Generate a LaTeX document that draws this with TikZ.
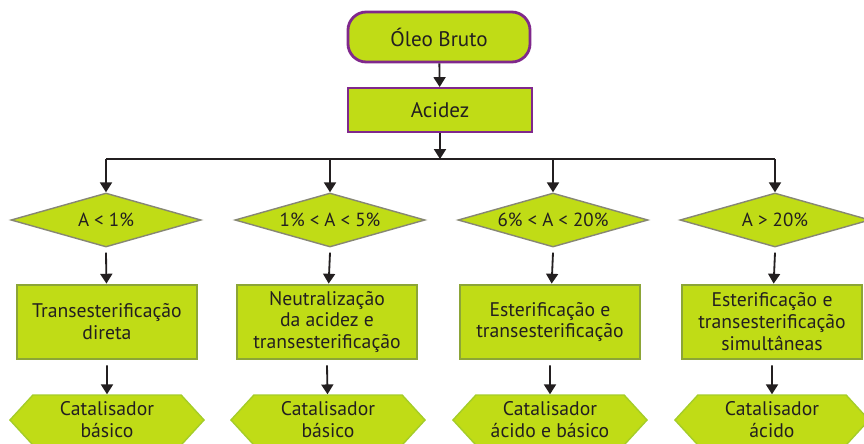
\documentclass[tikz,border=0pt]{standalone}
\usepackage{fontspec}
\setmainfont{PT Sans}
\usetikzlibrary{shapes.geometric,shapes.symbols,arrows.meta}
\definecolor{lima}{RGB}{192,220,22}
\definecolor{roxo}{RGB}{128,40,140}
\definecolor{verde}{RGB}{140,165,55}
\definecolor{verdeclaro}{RGB}{165,205,40}
\definecolor{cinza}{RGB}{135,135,115}
\definecolor{texto}{RGB}{35,31,32}
\tikzset{
	inicio/.style={draw=roxo,line width=2pt,fill=lima,rounded corners=13pt,minimum width=4.55cm,minimum height=1.25cm,font=\fontsize{15}{17}\selectfont,text=texto},
	acidez/.style={draw=roxo,line width=1.4pt,fill=lima,minimum width=4.62cm,minimum height=1.1cm,font=\fontsize{15}{17}\selectfont,text=texto},
	teste/.style={diamond,draw=cinza,line width=1pt,fill=lima,inner sep=0pt,aspect=3.5,minimum width=4.75cm,minimum height=1.35cm,font=\fontsize{13.5}{15}\selectfont,text=texto},
	processo/.style={draw=verde,line width=1.4pt,fill=lima,minimum width=4.5cm,minimum height=1.87cm,inner sep=1pt,align=center,font=\fontsize{14}{15.6}\selectfont,text=texto},
	catalisador/.style={signal,signal to=west and east,signal pointer angle=95,draw=verdeclaro,line width=1pt,fill=lima,minimum width=4.85cm,minimum height=1.25cm,inner sep=0pt,align=center,font=\fontsize{14}{15.6}\selectfont,text=texto},
	seta/.style={-{Triangle[length=7pt,width=8.5pt]},line width=1.3pt,draw=texto}
}
\begin{document}
\begin{tikzpicture}[x=0.025cm,y=-0.025cm]
	\useasboundingbox[fill=white] (0,0) rectangle (864,443);

	\node [inicio] (oleo) at (439,37) {Óleo Bruto};
	\node [acidez] (acid) at (440,110) {Acidez};
	\draw [seta] (oleo) -- (acid);

	\coordinate (ramo) at (440,159);
	\coordinate (r1) at (106,159);
	\coordinate (r4) at (775,159);
	\draw [seta] (acid.south) -- (ramo);
	\draw [line width=1.3pt,draw=texto] (r1) -- (r4);

	\node [teste] (a1) at (106,220) {A < 1\%};
	\node [teste] (a2) at (330,220) {1\% < A < 5\%};
	\node [teste] (a3) at (553,220) {6\% < A < 20\%};
	\node [teste] (a4) at (775,220) {A > 20\%};

	\draw [seta] (r1) -- (a1);
	\draw [seta] (a2 |- ramo) -- (a2);
	\draw [seta] (a3 |- ramo) -- (a3);
	\draw [seta] (r4) -- (a4);

	\node [processo] (p1) at (107,322) {Transesterificação\\direta};
	\node [processo] (p2) at (327,322) {Neutralização\\da acidez e\\transesterificação};
	\node [processo] (p3) at (550,322) {Esterificação e\\transesterificação};
	\node [processo] (p4) at (772,322) {Esterificação e\\transesterificação\\simultâneas};

	\draw [seta] (a1.south) ++(0,5) -- (p1);
	\draw [seta] (a2.south) ++(0,5) -- (p2);
	\draw [seta] (a3.south) ++(0,5) -- (p3);
	\draw [seta] (a4.south) ++(0,5) -- (p4);

	\node [catalisador] (c1) at (107,420) {Catalisador\\básico};
	\node [catalisador] (c2) at (328,420) {Catalisador\\básico};
	\node [catalisador] (c3) at (550,420) {Catalisador\\ácido e básico};
	\node [catalisador] (c4) at (772,420) {Catalisador\\ácido};

	\draw [seta] (p1.south) ++(0,5) -- (c1);
	\draw [seta] (p2.south) ++(0,5) -- (c2);
	\draw [seta] (p3.south) ++(0,5) -- (c3);
	\draw [seta] (p4.south) ++(0,5) -- (c4);
\end{tikzpicture}
\end{document}
